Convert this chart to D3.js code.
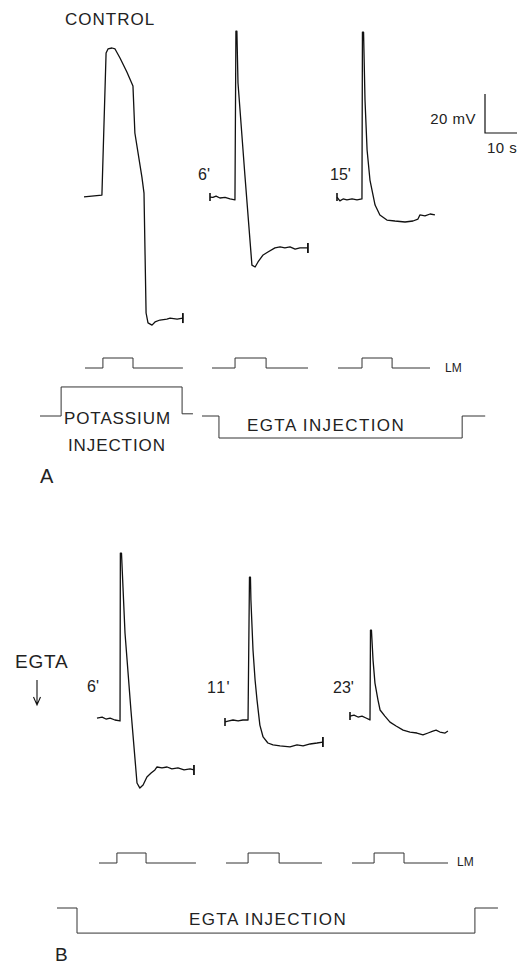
<!DOCTYPE html>
<html>
<head>
<meta charset="utf-8">
<script src="https://cdn.jsdelivr.net/npm/d3@7"></script>
<style>
  body { margin: 0; background: #fff; }
  text { font-family: "Liberation Sans", Arial, sans-serif; fill: #222; }
</style>
</head>
<body>
<script>
// membrane potential traces: [time (s) from trace start, mV from resting level]
var controlA = [[0,-0.5],[5.6,0.5],[6.9,73.3],[7.5,75.4],[8.75,75.9],[9.7,75.4],[11.25,70.8],[13.4,63.6],[15.3,56.4],
  [15.9,32.3],[18.1,9.7],[18.75,1.5],[19.4,-60],[20,-65.1],[21.25,-66.2],[22.2,-64.6],[23.75,-63.6],[25.9,-63.1],
  [26.9,-62.6],[29.1,-63.1],[30.9,-62.6]];
var egta6A = [[0,0.5],[0.9,0.3],[1.9,1.0],[3.1,0],[4.7,0.3],[6.25,-0.5],[7.8,-1.0],[8.1,85.6],[8.4,85.6],[8.75,59],
  [10.9,11.8],[13.1,-34.4],[14.1,-35.4],[15,-32.8],[16.6,-29.2],[18.1,-27.7],[20.3,-25.6],[21.9,-25.1],[23.4,-25.6],
  [25,-25.1],[26.6,-26.2],[28.1,-25.6],[30.6,-25.6]];
var egta15A = [[0,0.5],[0.9,-1.5],[1.9,-0.5],[3.1,-1.0],[4.7,-0.5],[6.25,-1.0],[7.8,-0.5],[7.95,85.1],[8.3,85.1],
  [8.75,50.3],[9.4,24.6],[10.3,9.2],[11.9,-3.6],[13.4,-8.7],[15.6,-11.3],[18.1,-11.8],[21.25,-12.3],[23.75,-11.8],
  [25.3,-10.8],[25.9,-8.7],[27.5,-9.2],[29.1,-8.2],[30.6,-8.7]];
var egta6B = [[0,1.0],[1.6,1.5],[2.8,0.5],[4.1,1.0],[5.6,0],[7.2,-0.5],[7.3,85.6],[7.65,85.6],[8.75,44.6],[10.6,5.1],
  [12.5,-32.3],[13.4,-34.9],[14.4,-33.3],[15.6,-29.2],[16.9,-27.2],[18.1,-25.6],[18.75,-24.1],[20.3,-24.6],
  [21.9,-24.1],[23.4,-25.1],[25.3,-24.6],[27.2,-25.6],[29.1,-25.1],[30.3,-25.6]];
var egta11B = [[0,-1.0],[1.25,-0.5],[2.5,0],[4.1,-0.5],[5.6,0],[7.2,0],[7.65,73.3],[7.95,73.3],[8.1,61.5],[8.75,35.9],
  [9.4,20.5],[10,10.3],[10.9,-2.6],[11.9,-8.7],[13.4,-11.8],[15,-12.8],[17.2,-13.3],[20.3,-13.8],[22.5,-12.8],
  [24.4,-13.3],[26.6,-12.3],[28.75,-11.8],[30.6,-11.3]];
var egta23B = [[0,1.0],[1.25,1.5],[2.5,0.5],[3.75,1.0],[5,0],[6.25,-1.0],[6.4,45.1],[6.7,45.1],[7.2,29.7],[7.8,17.9],
  [8.75,9.2],[9.4,4.1],[10.9,1.0],[12.5,-2.1],[14.4,-4.1],[16.6,-6.2],[18.75,-7.2],[20.9,-7.7],[22.8,-8.7],
  [24.4,-7.7],[25.9,-6.7],[26.9,-6.2],[28.1,-7.2],[29.7,-7.7],[30.6,-6.7]];

// light monitor pulses: [start, on, off, end] in s
var lmA = [[0,5.6,15,30.6],[0,7.2,16.9,30],[0,7.5,16.9,28.75]];
var lmB = [[0,5.6,14.7,30.3],[0,6.9,16.6,30],[0,6.9,16.25,30]];

// injection current records: [time (s), level]
var injKA = [[0,0],[6.6,0],[6.6,1.32],[44.4,1.32],[44.4,0.1],[47.8,0.1]];
var injEA = [[0,0],[5.3,0],[5.3,-1],[81.3,-1],[81.3,0],[88.5,0]];
var injEB = [[0,0],[6.25,0],[6.25,-1.14],[130.6,-1.14],[130.6,0],[137.8,0]];

// labels
var timeLabelsA = ["6'", "15'"];
var timeLabelsB = ["6'", "11'", "23'"];
var scaleBar = {mV: 20, s: 10};

var width = 521, height = 967;

var svg = d3.select("body").append("svg")
    .attr("width", width)
    .attr("height", height);

// shared scales: 10 s = 32 px, 20 mV = 39 px
var x = d3.scaleLinear().domain([0, 10]).range([0, 32]);
var y = d3.scaleLinear().domain([0, 20]).range([0, -39]);
var yLM = d3.scaleLinear().domain([0, 1]).range([0, -10]);
var yInj = d3.scaleLinear().domain([0, 1]).range([0, -22]);

var line = d3.line()
    .x(function(d) { return x(d[0]); })
    .y(function(d) { return y(d[1]); });

function trace(data, tx, ty, ticks) {
  var g = svg.append("g").attr("transform", "translate(" + tx + "," + ty + ")");
  g.append("path")
      .attr("d", line(data))
      .attr("fill", "none")
      .attr("stroke", "#111")
      .attr("stroke-width", 1.3)
      .attr("stroke-linejoin", "round");
  if (ticks.start) {
    var p = data[0];
    g.append("line").attr("x1", x(p[0])).attr("x2", x(p[0]))
        .attr("y1", y(p[1]) - 4).attr("y2", y(p[1]) + 4)
        .attr("stroke", "#111").attr("stroke-width", 1.6);
  }
  if (ticks.end) {
    var q = data[data.length - 1];
    g.append("line").attr("x1", x(q[0])).attr("x2", x(q[0]))
        .attr("y1", y(q[1]) - 5).attr("y2", y(q[1]) + 5)
        .attr("stroke", "#111").attr("stroke-width", 1.8);
  }
}

function lmTrace(p, tx, ty) {
  var pts = [[p[0],0],[p[1],0],[p[1],1],[p[2],1],[p[2],0],[p[3],0]];
  svg.append("path")
      .attr("transform", "translate(" + tx + "," + ty + ")")
      .attr("d", d3.line().x(function(d) { return x(d[0]); }).y(function(d) { return yLM(d[1]); })(pts))
      .attr("fill", "none")
      .attr("stroke", "#333")
      .attr("stroke-width", 1);
}

function injTrace(data, tx, ty) {
  svg.append("path")
      .attr("transform", "translate(" + tx + "," + ty + ")")
      .attr("d", d3.line().x(function(d) { return x(d[0]); }).y(function(d) { return yInj(d[1]); })(data))
      .attr("fill", "none")
      .attr("stroke", "#333")
      .attr("stroke-width", 1);
}

function label(txt, tx, ty, size, opts) {
  opts = opts || {};
  return svg.append("text")
      .attr("x", tx).attr("y", ty)
      .attr("font-size", size)
      .attr("letter-spacing", opts.ls || 0)
      .attr("font-weight", opts.bold ? "bold" : "normal")
      .attr("text-anchor", opts.anchor || "start")
      .text(txt);
}

// ---- panel A ----
trace(controlA, 84, 196, {end: true});
trace(egta6A, 210, 198, {start: true, end: true});
trace(egta15A, 337, 198, {start: true});

label("CONTROL", 65, 25, 17, {ls: 1});
label(timeLabelsA[0], 198, 180, 16);
label(timeLabelsA[1], 330, 180, 16);

// scale bar
var sb = svg.append("g").attr("transform", "translate(485,133)");
sb.append("path")
    .attr("d", "M" + x(0) + "," + y(scaleBar.mV) + "V" + y(0) + "H" + x(scaleBar.s))
    .attr("fill", "none").attr("stroke", "#111").attr("stroke-width", 1.2);
label(scaleBar.mV + " mV", 476, 124, 15, {anchor: "end", ls: 0.5});
label(scaleBar.s + " s", 487, 153, 15, {ls: 0.5});

lmA.forEach(function(p, i) {
  lmTrace(p, [85, 212, 338][i], 368);
});
label("LM", 445, 372, 12);

injTrace(injKA, 40, 416);
injTrace(injEA, 202, 416);
label("POTASSIUM", 64, 424, 17, {ls: 0.9});
label("INJECTION", 68, 451, 17, {ls: 0.9});
label("EGTA INJECTION", 247, 431, 17, {ls: 1.4});
label("A", 40, 483, 20);

// ---- panel B ----
label("EGTA", 15, 668, 19, {ls: 0.8});
// downward arrow under EGTA
svg.append("path")
    .attr("d", "M37,680V705M33.5,697L37,705L40.5,697")
    .attr("fill", "none").attr("stroke", "#111").attr("stroke-width", 1.1);

trace(egta6B, 97, 720, {end: true});
trace(egta11B, 225, 720, {start: true, end: true});
trace(egta23B, 350, 718, {start: true});

label(timeLabelsB[0], 87, 692, 16);
label(timeLabelsB[1], 207, 693, 16, {ls: 1.5});
label(timeLabelsB[2], 333, 693, 16);

lmB.forEach(function(p, i) {
  lmTrace(p, [99, 226, 352][i], 863);
});
label("LM", 457, 866, 12);

injTrace(injEB, 57, 908);
label("EGTA INJECTION", 189, 925, 17, {ls: 1.4});
label("B", 55, 961, 19);
</script>
</body>
</html>
